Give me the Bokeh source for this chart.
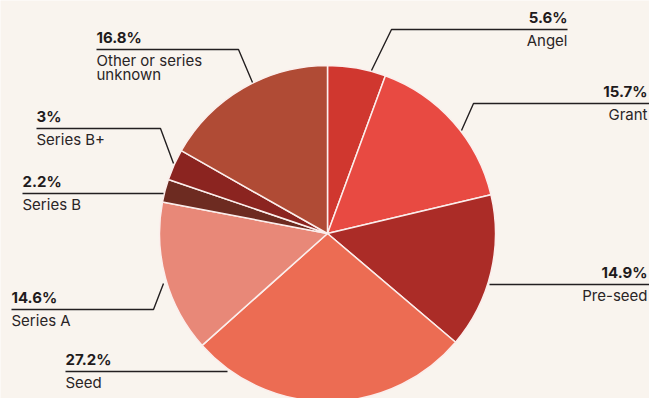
import math
from bokeh.plotting import figure
from bokeh.models import Range1d
from bokeh.core.properties import value
from bokeh.embed import file_html
from bokeh.resources import INLINE

# ---- data ----
categories = ["Angel", "Grant", "Pre-seed", "Seed", "Series A", "Series B", "Series B+", "Other or series unknown"]
shares = [5.6, 15.7, 14.9, 27.2, 14.6, 2.2, 3.0, 16.8]
pct_labels = ["5.6%", "15.7%", "14.9%", "27.2%", "14.6%", "2.2%", "3%", "16.8%"]
name_lines = [["Angel"], ["Grant"], ["Pre-seed"], ["Seed"], ["Series A"], ["Series B"], ["Series B+"], ["Other or series", "unknown"]]
colors = ["#d0372f", "#e84a42", "#ab2c27", "#ec6c53", "#e88878", "#6d2b21", "#8b2420", "#b04b35"]

W, H = 649, 398
BG = "#f9f4ee"
CX, CY, R = 327, 233, 168


def Y(py):
    return H - py


p = figure(width=W, height=H, x_range=Range1d(0, W), y_range=Range1d(0, H),
           output_backend="svg", toolbar_location=None,
           x_axis_location=None, y_axis_location=None, min_border=0)
p.grid.visible = False
p.outline_line_color = None
p.background_fill_color = BG
p.border_fill_color = BG

# wedges, clockwise from top
total = sum(shares)
starts, ends = [], []
cum = 0.0
for s in shares:
    a0 = math.pi / 2 - 2 * math.pi * cum / total
    cum += s
    a1 = math.pi / 2 - 2 * math.pi * cum / total
    starts.append(a0)
    ends.append(a1)

p.wedge(x=[CX] * len(shares), y=[Y(CY)] * len(shares), radius=R,
        start_angle=starts, end_angle=ends, direction="clock",
        fill_color=colors, line_color="#fbeeec", line_width=1.5)

# label layout: (anchor px on pie, elbow px, line end x, align side)
layout = [
    dict(anchor=(371, 70), elbow=(391, 29), x_end=567, side="right"),
    dict(anchor=(461, 130), elbow=(473, 103), x_end=652, side="right"),
    dict(anchor=(489, 284), elbow=(489, 284), x_end=652, side="right"),
    dict(anchor=(227, 371), elbow=(227, 371), x_end=65, side="left"),
    dict(anchor=(163, 283), elbow=(153, 309), x_end=11, side="left"),
    dict(anchor=(163, 193), elbow=(163, 193), x_end=22, side="left"),
    dict(anchor=(173, 163), elbow=(160, 128), x_end=36, side="left"),
    dict(anchor=(252, 82), elbow=(238, 49), x_end=96, side="left"),
]

FONT = value("Inter")
for i, L in enumerate(layout):
    ax, ay = L["anchor"]
    ex, ey = L["elbow"]
    xe = L["x_end"]
    p.line([ax, ex, xe], [Y(ay), Y(ey), Y(ey)], line_color="#231f20", line_width=1.4)
    if L["side"] == "right":
        tx = 647 if xe > 600 else xe
        align = "right"
    else:
        tx = xe
        align = "left"
    p.text(x=[tx], y=[Y(ey - 12)], text=[pct_labels[i]], text_font=FONT,
           text_font_style="bold", text_font_size="15px", text_color="#1f1b1c",
           text_align=align, text_baseline="alphabetic")
    for j, ln in enumerate(name_lines[i]):
        p.text(x=[tx], y=[Y(ey + 11 + 13.5 * j)], text=[ln], text_font=FONT,
               text_font_size="15px", text_color="#2a2526",
               text_align=align, text_baseline="alphabetic")

open("out.html", "w").write(file_html(p, INLINE))
